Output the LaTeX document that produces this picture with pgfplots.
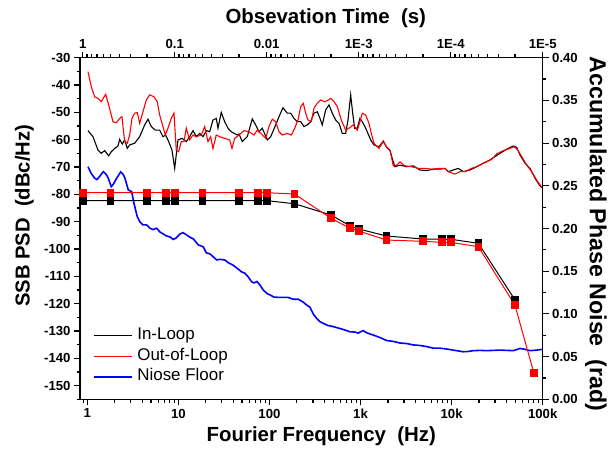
\documentclass[border=0pt]{standalone}
\usepackage{pgfplots}
\pgfplotsset{compat=1.18}
\usepackage{fontspec}
\setmainfont{Liberation Sans}
\definecolor{pred}{RGB}{255,0,0}
\definecolor{pblue}{RGB}{0,0,255}
\begin{document}
\begin{tikzpicture}
\pgfplotsset{
  common/.style={
    scale only axis, width=462.7bp, height=341.6bp,
    at={(0,0)}, anchor=south west,
    axis line style={line width=1.2pt},
    x axis line style={-}, y axis line style={-},
    tick align=outside,
    major tick length=6bp, minor tick length=3.5bp,
    every tick/.style={line width=1.2pt, black},
    tick label style={font=\bfseries\fontsize{13.2}{13.2}\selectfont},
  }
}
\begin{axis}[common,
  xmode=log, xmin=0.832, xmax=1e5,
  ymin=-155, ymax=-30,
  axis x line*=bottom, axis y line*=left,
  xtick={1,10,100,1000,10000,100000},
  xticklabels={1,10,100,1k,10k,100k},
  minor xtick={0.9,2,3,4,5,6,7,8,9,20,30,40,50,60,70,80,90,200,300,400,500,600,700,800,900,2000,3000,4000,5000,6000,7000,8000,9000,20000,30000,40000,50000,60000,70000,80000,90000},
  ytick={-150,-140,-130,-120,-110,-100,-90,-80,-70,-60,-50,-40,-30},
  yticklabels={-150,-140,-130,-120,-110,-100,-90,-80,-70,-60,-50,-40,-30},
  minor ytick={-155,-145,-135,-125,-115,-105,-95,-85,-75,-65,-55,-45,-35},
  every axis x label/.style={at={(axis description cs:0.5215,-0.1241)}, anchor=base, font=\bfseries\fontsize{20.5}{20.5}\selectfont},
  every axis y label/.style={at={(axis description cs:-0.1091,0.537)}, rotate=90, anchor=base, font=\bfseries\fontsize{20.3}{20.3}\selectfont},
  xlabel={Fourier Frequency\ \ (Hz)},
  ylabel={SSB PSD\ \ (dBc/Hz)},
  legend cell align=left,
  legend image code/.code={\draw[#1] (0bp,0bp) -- (38bp,0bp);},
  legend style={at={(axis description cs:0.0287,0.210)}, anchor=north west, draw=none, fill=none,
    font=\fontsize{17}{17}\selectfont, inner sep=0pt, row sep=4.5bp, column sep=4.3bp,
    nodes={inner sep=0pt, text height=12bp, text depth=4bp}},
]
\addplot[black, line width=1.1pt] table {
1.018 -56.7
1.155 -58.9
1.311 -63.8
1.424 -65.0
1.552 -64.0
1.718 -65.9
1.834 -64.4
2.000 -63.2
2.173 -62.3
2.268 -59.9
2.423 -61.6
2.574 -60.1
2.749 -63.2
2.921 -61.9
3.315 -61.3
3.761 -58.9
4.267 -54.6
4.639 -52.5
5.044 -55.2
5.580 -56.5
6.235 -56.5
6.779 -58.9
7.257 -58.3
7.831 -60.7
8.510 -63.8
9.113 -70.5
9.904 -60.1
10.96 -59.5
12.22 -60.7
13.31 -58.9
14.47 -56.7
15.73 -58.9
17.14 -57.7
18.64 -58.9
20.26 -56.7
22.07 -57.1
23.99 -52.8
26.09 -52.2
27.23 -55.8
29.60 -50.0
32.25 -53.4
35.06 -55.8
38.11 -57.1
44.37 -58.3
46.30 -57.9
50.33 -60.7
57.11 -58.9
64.78 -52.4
70.62 -54.6
76.76 -57.1
83.42 -55.8
94.67 -60.1
103.2 -58.9
117.1 -54.6
127.3 -51.6
140.8 -48.3
157.0 -50.3
171.1 -50.3
185.9 -52.2
202.1 -53.4
220.3 -53.4
239.4 -55.2
260.3 -54.6
283.6 -53.4
308.3 -50.3
335.1 -49.8
358.7 -52.2
380.2 -54.6
414.3 -49.1
450.5 -47.3
489.7 -50.3
533.7 -52.8
580.0 -54.0
630.5 -57.7
687.1 -57.7
728.3 -52.8
779.8 -43.6
820.2 -50.3
862.7 -55.8
921.2 -55.8
986.3 -52.2
1045 -53.4
1139 -55.8
1293 -60.1
1405 -61.9
1595 -62.6
1778 -60.5
1937 -62.8
2106 -64.0
2254 -67.4
2389 -69.9
2712 -69.3
3211 -69.9
3795 -69.6
4495 -71.1
5324 -71.3
6293 -70.8
7453 -70.8
8457 -70.5
9192 -71.7
10430 -71.1
11835 -70.5
13432 -71.7
15908 -71.1
18846 -69.9
22273 -68.6
26384 -67.4
29946 -66.2
33980 -65.0
40240 -63.5
47550 -62.3
51830 -62.8
56330 -65.6
63910 -68.6
72530 -70.5
82320 -74.1
93300 -76.9
100000 -77.8
};
\addlegendentry{In-Loop}
\addplot[pred, line width=1.1pt] table {
1.018 -35.1
1.106 -40.6
1.206 -44.3
1.311 -44.9
1.424 -46.1
1.592 -43.4
1.718 -47.3
1.915 -53.4
2.082 -53.8
2.268 -52.2
2.404 -51.6
2.574 -60.7
2.749 -61.3
2.921 -58.3
3.096 -52.2
3.315 -50.3
3.540 -50.1
3.761 -54.0
4.088 -49.8
4.444 -45.5
4.843 -43.6
5.399 -44.3
5.869 -46.1
6.235 -51.0
6.779 -55.2
7.186 -58.3
7.691 -55.8
8.360 -52.2
8.952 -50.3
9.487 -63.8
10.08 -64.4
10.77 -60.7
11.53 -60.7
12.22 -55.8
13.31 -60.1
14.47 -58.3
15.73 -58.9
17.85 -58.3
19.45 -55.2
21.14 -60.7
22.63 -58.9
23.99 -63.2
26.09 -58.3
28.42 -58.9
32.25 -59.5
36.60 -60.1
38.80 -63.2
41.53 -59.5
46.30 -58.3
52.53 -56.7
59.62 -57.1
67.64 -58.3
73.52 -56.5
80.12 -57.7
90.93 -59.5
98.83 -55.2
107.4 -52.5
117.1 -53.4
127.3 -57.1
138.3 -58.3
157.0 -57.7
173.7 -58.3
189.3 -55.8
205.8 -52.8
220.3 -47.9
235.3 -46.7
249.9 -50.3
265.0 -52.8
288.0 -53.4
308.3 -48.5
335.1 -46.7
365.1 -45.5
404.2 -46.1
431.5 -45.7
470.4 -44.9
511.1 -46.1
555.6 -47.9
614.8 -52.8
687.1 -56.5
746.9 -55.8
832.6 -54.6
921.2 -56.5
986.3 -53.4
1045 -50.3
1139 -51.0
1238 -54.0
1312 -57.7
1405 -61.3
1595 -63.2
1778 -60.7
1937 -62.6
2106 -63.8
2289 -69.6
2494 -69.3
2712 -68.1
3077 -69.6
3644 -69.9
4306 -70.5
5100 -70.5
6041 -70.8
7453 -70.5
8457 -70.5
9192 -71.7
10890 -72.6
12360 -71.7
14030 -71.7
16610 -70.5
19630 -69.6
23250 -68.4
27540 -67.2
31250 -65.2
36930 -64.0
43740 -63.2
48400 -62.6
52620 -63.5
58830 -66.2
66730 -69.3
75730 -71.7
85940 -74.8
97500 -77.4
100000 -77.8
};
\addlegendentry{Out-of-Loop}
\addplot[pblue, line width=1.6pt] table {
1.018 -69.9
1.098 -72.2
1.206 -74.1
1.278 -74.6
1.378 -73.3
1.498 -71.7
1.604 -72.6
1.701 -74.1
1.834 -77.2
1.940 -76.2
2.103 -74.1
2.326 -71.8
2.466 -72.6
2.594 -74.1
2.819 -78.4
3.073 -79.0
3.256 -83.3
3.540 -88.2
3.790 -90.1
4.088 -91.2
4.489 -91.2
4.880 -92.4
5.265 -92.9
5.780 -92.4
6.284 -93.8
6.830 -94.5
7.368 -95.2
8.091 -95.6
8.795 -96.5
9.415 -96.0
10.42 -94.5
11.24 -94.0
12.12 -94.7
13.41 -95.7
14.58 -96.3
16.55 -98.5
18.78 -99.2
20.26 -101.4
22.24 -101.8
23.99 -102.8
26.35 -104.0
28.64 -103.8
32.25 -104.0
35.32 -105.0
39.79 -105.9
44.01 -107.0
49.07 -108.3
53.87 -108.9
58.12 -110.1
63.83 -112.0
67.64 -112.4
72.98 -111.9
78.73 -113.2
85.55 -115.0
93.96 -116.3
101.4 -116.8
112.1 -117.6
124.1 -117.7
140.8 -117.7
159.8 -117.7
182.7 -118.4
207.4 -118.4
233.5 -119.4
256.4 -120.5
278.6 -121.3
302.9 -123.8
330.1 -125.4
358.7 -126.6
390.0 -127.2
439.2 -128.0
502.1 -128.4
565.6 -128.9
669.9 -129.6
765.8 -130.3
869.1 -130.4
944.9 -130.8
1012 -130.2
1072 -129.9
1177 -130.7
1381 -131.5
1636 -132.4
1937 -133.5
2272 -133.8
2712 -134.4
3211 -134.6
3795 -135.1
4495 -135.3
5324 -135.7
6293 -136.3
7453 -136.3
8831 -136.6
10430 -137.0
11835 -137.3
13432 -137.6
15130 -137.5
17290 -137.2
20490 -137.1
24270 -137.2
28680 -137.1
33980 -137.0
40240 -137.1
47550 -137.2
51830 -136.8
56330 -136.4
63910 -136.7
72530 -137.2
85940 -137.0
100000 -136.7
};
\addlegendentry{Niose Floor}
\end{axis}
\begin{axis}[common,
  xmode=log, x dir=reverse, xmin=1e-5, xmax=1.07,
  ymin=0, ymax=0.4,
  axis x line*=top, axis y line*=right,
  xtick={1,0.1,0.01,0.001,0.0001,0.00001},
  xticklabels={1,0.1,0.01,1E-3,1E-4,1E-5},
  minor xtick={0.2,0.3,0.4,0.5,0.6,0.7,0.8,0.9,0.02,0.03,0.04,0.05,0.06,0.07,0.08,0.09,0.002,0.003,0.004,0.005,0.006,0.007,0.008,0.009,0.0002,0.0003,0.0004,0.0005,0.0006,0.0007,0.0008,0.0009,0.00002,0.00003,0.00004,0.00005,0.00006,0.00007,0.00008,0.00009},
  ytick={0,0.05,0.1,0.15,0.2,0.25,0.3,0.35,0.4},
  yticklabels={0.00,0.05,0.10,0.15,0.20,0.25,0.30,0.35,0.40},
  minor ytick={0.025,0.075,0.125,0.175,0.225,0.275,0.325,0.375},
  every axis x label/.style={at={(axis description cs:0.5312,1.1007)}, anchor=base, font=\bfseries\fontsize{20.5}{20.5}\selectfont},
  every axis y label/.style={at={(axis description cs:1.1022,0.484)}, rotate=-90, anchor=base, font=\bfseries\fontsize{23.3}{23.3}\selectfont},
  xlabel={Obsevation Time\ \ (s)},
  ylabel={Accumulated Phase Noise\ \ (rad)},
]
\addplot[black, line width=1pt, mark=square*, mark size=3.4pt, mark options={solid, fill=black, draw=black}] table {
1 0.2326
0.5 0.2326
0.2 0.2326
0.125 0.2326
0.1 0.2326
0.05 0.2326
0.02 0.2326
0.0125 0.2326
0.01 0.2326
0.005 0.2290
0.002 0.2158
0.00125 0.2033
0.001 0.1995
0.0005 0.1912
0.0002 0.1877
0.000125 0.1874
0.0001 0.1874
0.00005 0.1827
0.00002 0.1163
};
\addplot[pred, line width=1pt, mark=square*, mark size=3.4pt, mark options={solid, fill=pred, draw=pred}] table {
1 0.2419
0.5 0.2419
0.2 0.2419
0.125 0.2419
0.1 0.2419
0.05 0.2419
0.02 0.2419
0.0125 0.2419
0.01 0.2419
0.005 0.2404
0.002 0.2120
0.00125 0.2003
0.001 0.1971
0.0005 0.1865
0.0002 0.1850
0.000125 0.1838
0.0001 0.1838
0.00005 0.1787
0.00002 0.1101
0.0000125 0.0311
};
\end{axis}
\pgfresetboundingbox
\path[use as bounding box] (-80bp,-50.7bp) rectangle (528bp,399.3bp);
\end{tikzpicture}
\end{document}
